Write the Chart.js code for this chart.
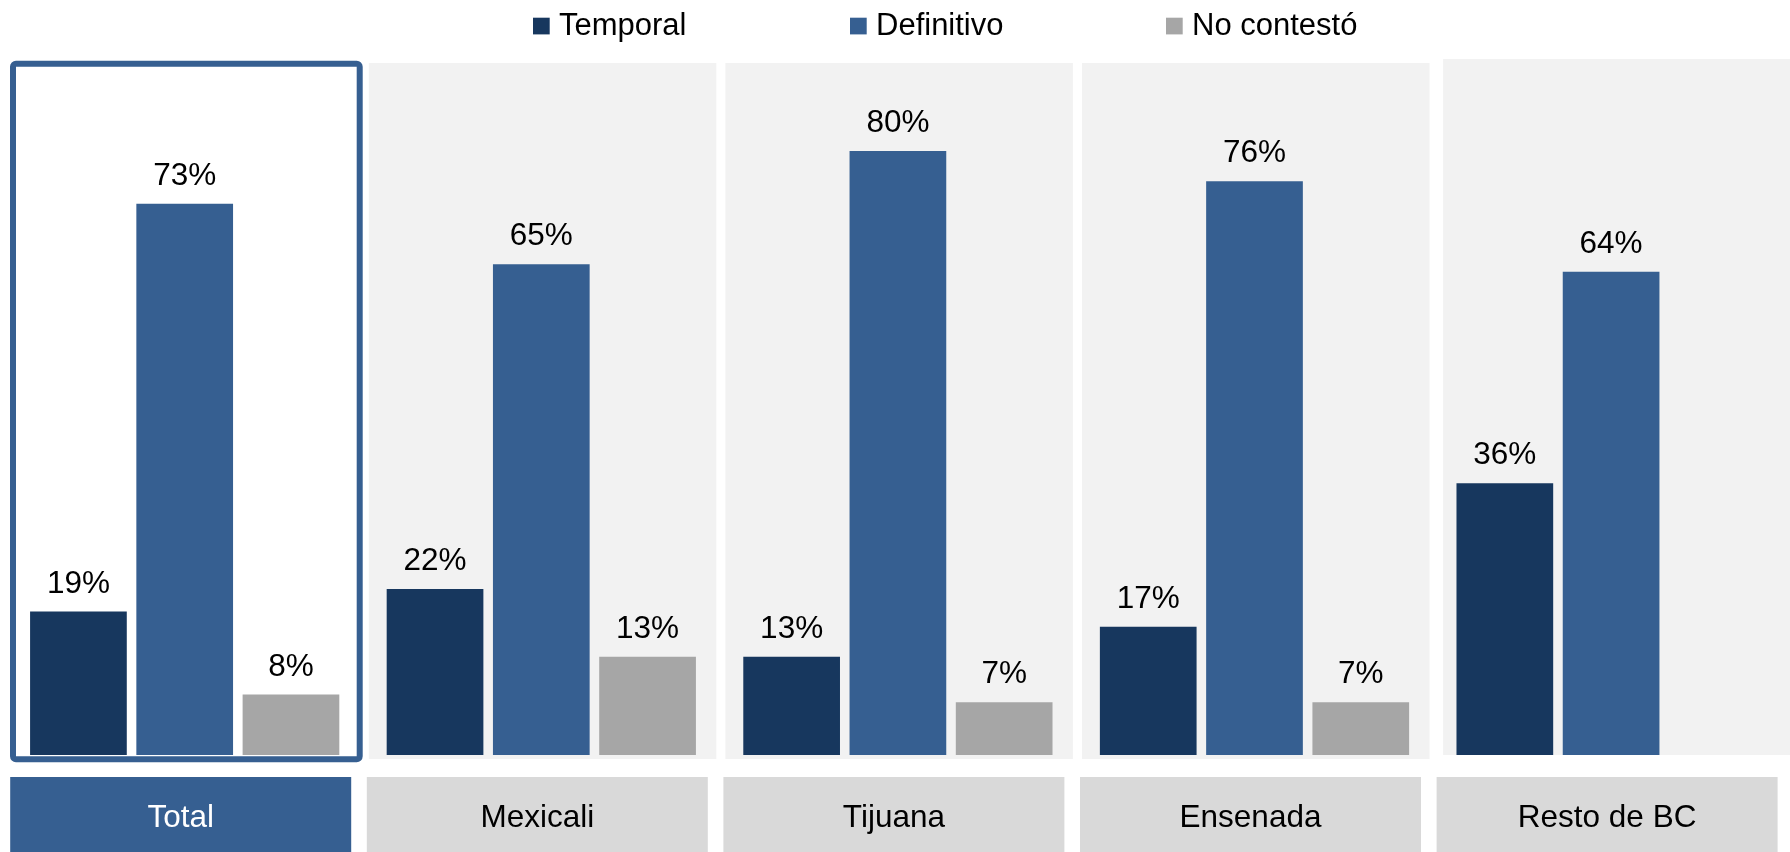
<!DOCTYPE html>
<html><head><meta charset="utf-8">
<script src="https://cdn.jsdelivr.net/npm/chart.js@4/dist/chart.umd.min.js"></script>
<style>html,body{margin:0;padding:0;background:#fff;overflow:hidden}#wrap{width:1790px;height:852px;position:relative}</style>
</head><body><div id="wrap"><canvas id="c" width="1790" height="852"></canvas></div>
<script>
const categories = ['Total', 'Mexicali', 'Tijuana', 'Ensenada', 'Resto de BC'];
const seriesNames = ['Temporal', 'Definitivo', 'No contestó'];
const temporal = [19, 22, 13, 17, 36];
const definitivo = [73, 65, 80, 76, 64];
const noContesto = [8, 13, 7, 7, null];
const seriesColors = ['#17375E', '#365F91', '#A6A6A6'];

const FONT = "'Liberation Sans', Arial, sans-serif";

const panelPlugin = {
  id: 'panels',
  beforeDraw(chart) {
    const ctx = chart.ctx, x = chart.scales.x;
    ctx.save();
    categories.forEach((c, i) => {
      const cx = x.getPixelForValue(i);
      if (i === 0) {
        ctx.fillStyle = '#FFFFFF';
        ctx.strokeStyle = '#365F91';
        ctx.lineWidth = 6;
        ctx.beginPath();
        ctx.roundRect(cx - 171.7, 63.7, 346.7, 695.6, 3);
        ctx.fill();
        ctx.stroke();
      } else if (i === categories.length - 1) {
        ctx.fillStyle = '#F2F2F2';
        ctx.fillRect(cx - 168, 59, 360, 696);
      } else {
        ctx.fillStyle = '#F2F2F2';
        ctx.fillRect(cx - 172.5, 63, 347.5, 696);
      }
      ctx.fillStyle = i === 0 ? '#365F91' : '#D9D9D9';
      ctx.fillRect(cx - 174.5, 777, 341, 75);
    });
    ctx.restore();
  }
};

const labelPlugin = {
  id: 'valueLabels',
  afterDatasetsDraw(chart) {
    const ctx = chart.ctx;
    ctx.save();
    ctx.font = '31.5px ' + FONT;
    ctx.fillStyle = '#000000';
    ctx.textAlign = 'center';
    ctx.textBaseline = 'alphabetic';
    chart.data.datasets.forEach((ds, di) => {
      const meta = chart.getDatasetMeta(di);
      meta.data.forEach((bar, i) => {
        const v = ds.data[i];
        if (v === null || v === undefined) return;
        ctx.fillText(v + '%', bar.x, bar.y - 19);
      });
    });
    ctx.restore();
  }
};

const legendPlugin = {
  id: 'customLegend',
  afterDraw(chart) {
    const ctx = chart.ctx;
    ctx.save();
    ctx.font = '31px ' + FONT;
    ctx.textBaseline = 'alphabetic';
    ctx.textAlign = 'left';
    const starts = [533, 850, 1166];
    chart.data.datasets.forEach((ds, k) => {
      const xPos = starts[k];
      ctx.fillStyle = ds.backgroundColor;
      ctx.fillRect(xPos, 17.7, 16.7, 16.7);
      ctx.fillStyle = '#000000';
      ctx.fillText(ds.label, xPos + 26, 35);
    });
    ctx.restore();
  }
};

const seriesData = [temporal, definitivo, noContesto];

new Chart(document.getElementById('c'), {
  type: 'bar',
  data: {
    labels: categories,
    datasets: seriesNames.map((n, k) => ({
      label: n,
      data: seriesData[k],
      backgroundColor: seriesColors[k],
      borderWidth: 0,
      categoryPercentage: 0.894,
      barPercentage: 0.91
    }))
  },
  options: {
    responsive: false,
    animation: false,
    devicePixelRatio: 1,
    layout: { padding: { left: 6.4, right: 0.6, top: 0, bottom: 0 } },
    plugins: { legend: { display: false }, tooltip: { enabled: false } },
    scales: {
      x: {
        grid: { display: false, drawTicks: false },
        border: { display: false },
        ticks: {
          padding: 44,
          labelOffset: -4,
          font: { size: 31.5, family: FONT },
          color: (c) => c.index === 0 ? '#FFFFFF' : '#000000',
          maxRotation: 0
        },
        afterFit: (s) => { s.height = 97; }
      },
      y: {
        display: false,
        min: 0,
        max: 100
      }
    }
  },
  plugins: [panelPlugin, labelPlugin, legendPlugin]
});
</script></body></html>
